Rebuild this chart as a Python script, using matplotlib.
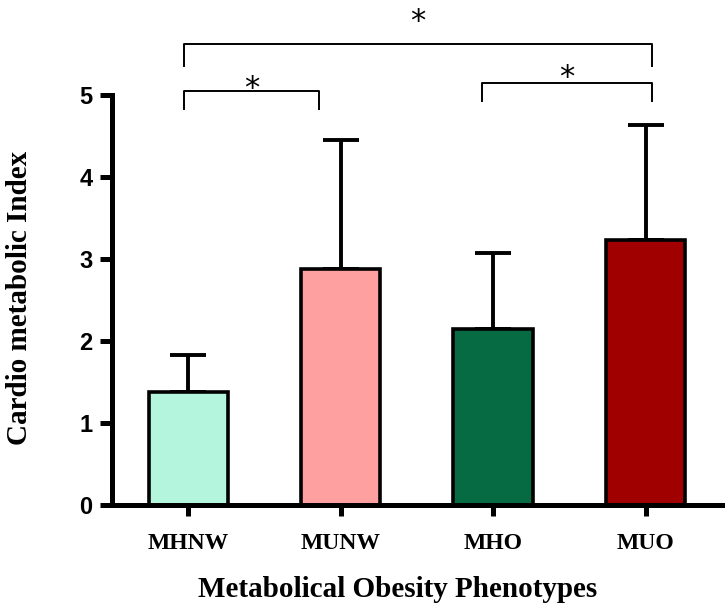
import numpy as np
import matplotlib.pyplot as plt

groups = ["MHNW", "MUNW", "MHO", "MUO"]
means = [1.38, 2.88, 2.15, 3.23]
sd = [0.45, 1.57, 0.92, 1.40]
colors = ["#b4f5de", "#ffa0a0", "#066a43", "#a00000"]

# significance brackets: (x start, x end, line y, tip y, star y)
brackets = [
    (-0.03, 0.86, 5.05, 4.83, 5.08),
    (1.93, 3.04, 5.15, 4.93, 5.21),
    (-0.03, 3.04, 5.62, 5.35, 5.90),
]

fig = plt.figure(figsize=(7.25, 6.12), dpi=100)
ax = fig.add_axes([0.1545, 0.1748, 0.841, 0.670])

x = np.arange(len(groups))
ax.bar(x, means, width=0.52, color=colors, edgecolor="black", linewidth=2.6, zorder=2)
ax.errorbar(x, means, yerr=[np.zeros(len(sd)), sd], fmt="none", ecolor="black",
            elinewidth=2.8, capsize=13, capthick=2.8, zorder=1)

for x0, x1, yl, yt, ys in brackets:
    ax.plot([x0, x0, x1, x1], [yt, yl, yl, yt], color="black", lw=1.4, clip_on=False)
    ax.text((x0 + x1) / 2, ys, "*", ha="center", va="center", fontsize=22,
            family="DejaVu Sans", clip_on=False)

ax.set_xlim(-0.5, 3.5)
ax.set_ylim(0, 5)
ax.set_yticks(range(6))
ax.set_xticks(x)
ax.set_xticklabels(groups, family="Liberation Serif", fontweight="bold", fontsize=17)
for lab in ax.get_yticklabels():
    lab.set_family("Liberation Sans")
    lab.set_fontweight("bold")
    lab.set_fontsize(17)

for s in ["top", "right"]:
    ax.spines[s].set_visible(False)
for s in ["left", "bottom"]:
    ax.spines[s].set_linewidth(3.6)
ax.tick_params(axis="y", length=9, width=3.6, pad=5)
ax.tick_params(axis="x", length=8, width=3.6, pad=12)

ax.set_xlabel("Metabolical Obesity Phenotypes", family="Liberation Serif",
              fontweight="bold", fontsize=21, va="center", ha="center")
ax.xaxis.set_label_coords(0.469, -0.207)
ax.set_ylabel("Cardio metabolic Index", family="Liberation Serif",
              fontweight="bold", fontsize=21, va="center", ha="center")
ax.yaxis.set_label_coords(-0.151, 0.505)

fig.savefig("out.png", dpi=100)
